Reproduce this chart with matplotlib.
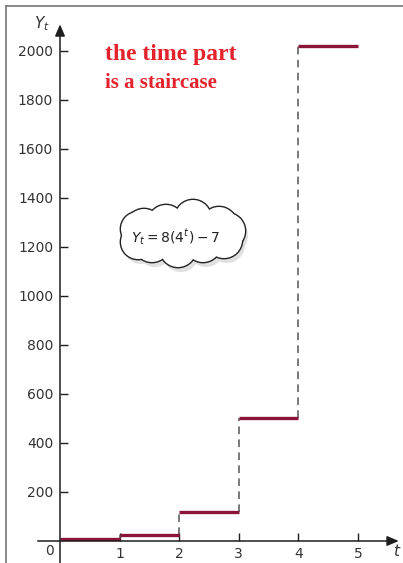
import matplotlib.pyplot as plt
from matplotlib.patches import Circle, Ellipse
from matplotlib.lines import Line2D

# step levels
t_start = [0, 1, 2, 3, 4]
t_end = [1, 2, 3, 4, 5]
y_vals = [10, 25, 118, 500, 2022]
y_ticks = [200, 400, 600, 800, 1000, 1200, 1400, 1600, 1800, 2000]
x_ticks = [1, 2, 3, 4, 5]

W, H = 403, 563
fig = plt.figure(figsize=(W / 100, H / 100), dpi=100)
ax = fig.add_axes([0, 0, 1, 1])
ax.set_xlim(-1.007, 5.755)
ax.set_ylim(-89.8, 2208)

axis_col = '#1e1e1e'
for s in ['top', 'right']:
    ax.spines[s].set_visible(False)
ax.spines['left'].set_position(('data', 0))
ax.spines['bottom'].set_position(('data', 0))
ax.spines['left'].set_bounds(-89.8, 2090)
ax.spines['bottom'].set_bounds(-0.37, 5.6)
for s in ['left', 'bottom']:
    ax.spines[s].set_color(axis_col)
    ax.spines[s].set_linewidth(1.1)

ax.set_yticks(y_ticks)
ax.set_xticks(x_ticks)
ax.tick_params(axis='both', direction='in', length=5.5, width=1.0, color=axis_col,
               labelsize=10, labelcolor='#333333')
ax.tick_params(axis='y', pad=5)
ax.tick_params(axis='x', pad=4)

# arrow heads
ax.annotate('', xy=(0, 2120), xytext=(0, 2060),
            arrowprops=dict(arrowstyle='-|>,head_length=0.7,head_width=0.3', color=axis_col, lw=1.1))
ax.annotate('', xy=(5.73, 0), xytext=(5.5, 0),
            arrowprops=dict(arrowstyle='-|>,head_length=0.7,head_width=0.3', color=axis_col, lw=1.1))

ax.text(-0.17, -42, '0', ha='center', va='center', fontsize=10, color='#333333')
ax.text(-0.30, 2110, r'$Y_t$', ha='center', va='center', fontsize=11, color='#333333')
ax.text(5.65, -42, r'$t$', ha='center', va='center', fontsize=11, color='#333333')

# staircase
step_col = '#8a1538'
ax.vlines(t_start[1:], y_vals[:-1], y_vals[1:], colors='#555555', linestyles=(0, (5, 3.5)), lw=1.1)
ax.hlines(y_vals, t_start, t_end, colors=step_col, lw=2.4)

# red note
ax.text(0.76, 1962, 'the time part', fontsize=17, fontweight='bold', color='#e3222b',
        family='Liberation Serif', ha='left', va='baseline')
ax.text(0.76, 1850, 'is a staircase', fontsize=15, fontweight='bold', color='#e3222b',
        family='Liberation Serif', ha='left', va='baseline')

# cloud with the formula (pixel overlay)
ov = fig.add_axes([0, 0, 1, 1], facecolor='none')
ov.set_xlim(0, W)
ov.set_ylim(H, 0)
ov.axis('off')
cx, cy = 182, 234
bumps = [(-38, -7, 18), (-16, -11, 18), (11, -16, 18), (37, -9, 18), (45, -3, 18),
         (42, 6, 18), (21, 10, 18), (-4, 15, 18), (-30, 10, 18), (-44, 8, 17),
         (-44, -5, 17)]
for dx, dy, r in bumps:
    ov.add_patch(Circle((cx + dx + 3, cy + dy + 5), r, facecolor='#e0e0e0', edgecolor='none', zorder=1))
for dx, dy, r in bumps:
    ov.add_patch(Circle((cx + dx, cy + dy), r, facecolor='white', edgecolor='#222222', lw=2.0, zorder=2))
for dx, dy, r in bumps:
    ov.add_patch(Circle((cx + dx, cy + dy), r, facecolor='white', edgecolor='none', zorder=3))
ov.add_patch(Ellipse((cx, cy), 100, 36, facecolor='white', edgecolor='none', zorder=3))
ov.text(176, 237, r'$Y_t = 8(4^t) - 7$', ha='center', va='center', fontsize=10,
        color='#222222', zorder=4)

# frame lines of the picture
fig.add_artist(Line2D([6 / W, 6 / W], [0, 1 - 6 / H], color='#777777', lw=1.2))
fig.add_artist(Line2D([6 / W, 1], [1 - 6 / H, 1 - 6 / H], color='#777777', lw=1.2))

fig.savefig('out.png', dpi=100)
